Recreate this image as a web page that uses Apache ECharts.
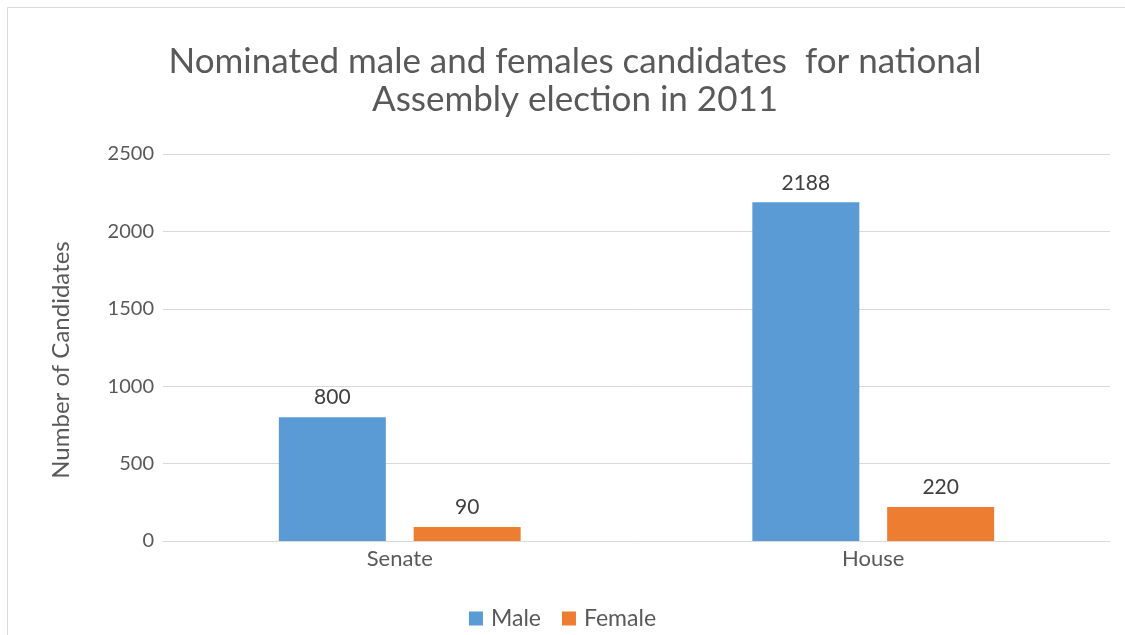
<!DOCTYPE html>
<html>
<head>
<meta charset="utf-8">
<script src="https://cdn.jsdelivr.net/npm/echarts@6/dist/echarts.min.js"></script>
<style>
  html, body { margin: 0; padding: 0; background: #fff; }
  #chart { width: 1125px; height: 635px; }
</style>
</head>
<body>
<div id="chart"></div>
<script>
// Chambers and nominated candidates by sex
const categories = ['Senate', 'House'];
const maleValues = [800, 2188];
const femaleValues = [90, 220];
const yTicks = [0, 500, 1000, 1500, 2000, 2500];

const chart = echarts.init(document.getElementById('chart'));
const textColor = '#595959';
const font = 'Lato, "Open Sans", sans-serif';

const valueLabel = {
  show: true,
  position: 'top',
  distance: 9,
  fontFamily: font,
  fontSize: 21,
  color: '#404040'
};

chart.setOption({
  animation: false,
  backgroundColor: '#ffffff',
  textStyle: { fontFamily: font },
  title: {
    text: 'Nominated male and females candidates  for national\nAssembly election in 2011',
    left: 570,
    top: 38,
    textAlign: 'center',
    textStyle: {
      fontFamily: font,
      fontSize: 35,
      fontWeight: 'normal',
      color: textColor,
      lineHeight: 38
    }
  },
  graphic: [{
    type: 'rect',
    shape: { x: 7.5, y: 7.5, width: 1140, height: 660 },
    style: { fill: 'none', stroke: '#d9d9d9', lineWidth: 1 },
    silent: true,
    z: -1
  }],
  legend: {
    bottom: 0,
    left: 'center',
    itemWidth: 14,
    itemHeight: 14,
    itemGap: 21,
    icon: 'rect',
    textStyle: {
      fontFamily: font,
      fontSize: 23,
      color: textColor,
      padding: [0, 0, 0, 3]
    }
  },
  grid: {
    left: 163,
    right: 15,
    top: 154,
    bottom: 94,
    containLabel: false
  },
  xAxis: {
    type: 'category',
    data: categories,
    axisTick: { show: false },
    axisLine: { lineStyle: { color: '#d9d9d9', width: 1 } },
    axisLabel: { fontFamily: font, fontSize: 22, color: textColor, margin: 7 }
  },
  yAxis: {
    type: 'value',
    min: yTicks[0],
    max: yTicks[yTicks.length - 1],
    interval: yTicks[1] - yTicks[0],
    name: 'Number of Candidates',
    nameLocation: 'middle',
    nameGap: 90,
    nameTextStyle: {
      fontFamily: font,
      fontSize: 24,
      color: textColor,
      padding: [0, 25, 0, 0]
    },
    axisLine: { show: false },
    axisTick: { show: false },
    axisLabel: {
      fontFamily: font,
      fontSize: 20,
      color: textColor,
      margin: 9,
      formatter: function (v) { return String(v); }
    },
    splitLine: { lineStyle: { color: '#d9d9d9', width: 1 } }
  },
  series: [
    {
      name: 'Male',
      type: 'bar',
      data: maleValues,
      barWidth: 107,
      barGap: '26%',
      itemStyle: { color: '#5b9bd5' },
      label: valueLabel
    },
    {
      name: 'Female',
      type: 'bar',
      data: femaleValues,
      barWidth: 107,
      itemStyle: { color: '#ed7d31' },
      label: valueLabel
    }
  ]
});
</script>
</body>
</html>
